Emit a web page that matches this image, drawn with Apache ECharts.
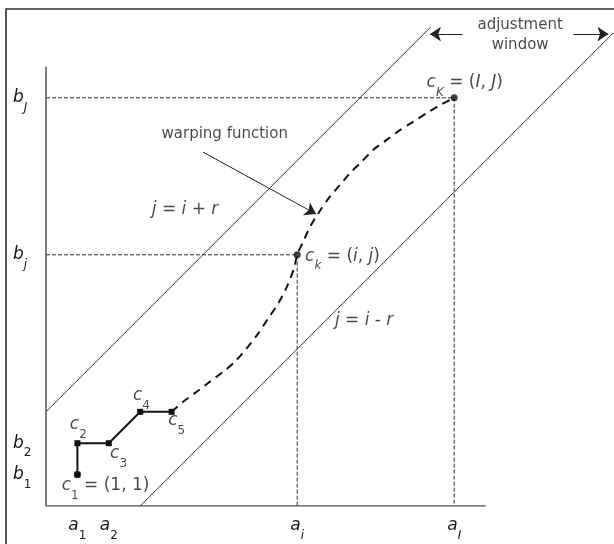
<!DOCTYPE html>
<html>
<head>
<meta charset="utf-8">
<script src="https://cdn.jsdelivr.net/npm/echarts@6/dist/echarts.min.js"></script>
<style>
html,body{margin:0;padding:0;background:#fff;}
#chart{width:614px;height:544px;}
</style>
</head>
<body>
<div id="chart"></div>
<script>
// ---- data (grid units: i along x, j along y) ----
const pathPoints = [[1, 1], [1, 2], [2, 2], [3, 3], [4, 3]];      // c1..c5
const pathNames = ['1', '2', '3', '4', '5'];
const ckPoint = [8, 8];     // c_k = (i, j)
const cKPoint = [13, 13];   // c_K = (I, J)
const warpCurve = [[4, 3], [4.37, 3.32], [4.8, 3.64], [5.22, 3.96], [5.65, 4.28], [6.02, 4.6],
  [6.39, 5.02], [6.76, 5.5], [7.08, 5.98], [7.4, 6.46], [7.67, 6.98], [7.9, 7.57], [8, 8],
  [8.19, 8.42], [8.41, 8.89], [8.67, 9.32], [9.04, 9.85], [9.36, 10.22], [9.68, 10.6],
  [10.05, 10.96], [10.42, 11.34], [10.85, 11.66], [11.27, 11.97], [11.7, 12.24],
  [12.12, 12.51], [12.55, 12.77], [13, 13]];
const r = 3;                       // window half-width
const axisEnd = 14;                // length of the drawn axes
const upperLineRange = [0, 12.25]; // i-range of j = i + r
const lowerLineRange = [3, 18.06]; // i-range of j = i - r
const xTickValues = [1, 2, 8, 13];
const xTickLabels = ['{m|a}{sn|1}', '{m|a}{sn|2}', '{m|a}{s|i}', '{m|a}{s|I}'];
const yTickValues = [1, 2, 8, 13];
const yTickLabels = ['{m|b}{sn|1}', '{m|b}{sn|2}', '{m|b}{s|j}', '{m|b}{s|J}'];
const warpArrow = [[5.0, 11.27], [8.6, 9.3]];
const windowArrowLeft = [[13.27, 15.03], [12.23, 15.03]];
const windowArrowRight = [[16.79, 15.03], [17.91, 15.03]];

// ---- styling ----
const FONT = 'DejaVu Sans';
const INK = '#1a1a1a';
const rich = {
  m:  {fontFamily: FONT, fontStyle: 'italic', fontSize: 17, lineHeight: 32, color: INK},
  n:  {fontFamily: FONT, fontStyle: 'normal', fontSize: 17, lineHeight: 32, color: INK},
  s:  {fontFamily: FONT, fontStyle: 'italic', fontSize: 12, lineHeight: 17, verticalAlign: 'bottom', color: INK},
  sn: {fontFamily: FONT, fontStyle: 'normal', fontSize: 12, lineHeight: 17, verticalAlign: 'bottom', color: INK},
  w:  {fontFamily: FONT, fontStyle: 'normal', fontSize: 15, lineHeight: 20, color: INK, align: 'center'}
};

// annotation anchors (left-middle of text, in grid units)
const annotations = [
  {at: [12.12, 13.49], text: '{m|c}{s|K}{n| = (}{m|I}{n|, }{m|J}{n|)}'},
  {at: [8.25, 7.95],   text: '{m|c}{s|k}{n| = (}{m|i}{n|, }{m|j}{n|)}'},
  {at: [0.50, 0.65],   text: '{m|c}{sn|1}{n| = (1, 1)}'},
  {at: [0.76, 2.58],   text: '{m|c}{sn|2}'},
  {at: [2.04, 1.67],   text: '{m|c}{sn|3}'},
  {at: [2.77, 3.52],   text: '{m|c}{sn|4}'},
  {at: [3.89, 2.72],   text: '{m|c}{sn|5}'},
  {at: [3.37, 9.43],   text: '{m|j}{n| = }{m|i}{n| + }{m|r}'},
  {at: [9.20, 5.92],   text: '{m|j}{n| = }{m|i}{n| - }{m|r}'},
  {at: [3.68, 11.83],  text: '{w|warping function}'}
];
const windowLabel = {at: [15.10, 15.0], text: '{w|adjustment}\n{w|window}'};

const chart = echarts.init(document.getElementById('chart'), null, {renderer: 'canvas'});

const option = {
  backgroundColor: '#fff',
  animation: false,
  graphic: [{
    type: 'rect', shape: {x: 6, y: 9, width: 700, height: 700},
    style: {fill: 'none', stroke: '#333', lineWidth: 1.6}, z: 100
  }],
  grid: {left: 46, top: 3.6, width: 580.9, height: 502.4, outerBoundsMode: 'none', containLabel: false},
  xAxis: {
    type: 'value', min: 0, max: 18.5,
    axisLine: {show: false}, axisTick: {show: false}, splitLine: {show: false},
    axisLabel: {
      customValues: xTickValues, margin: 4,
      formatter: v => xTickLabels[xTickValues.indexOf(v)],
      rich: rich
    }
  },
  yAxis: {
    type: 'value', min: 0, max: 16,
    axisLine: {show: false}, axisTick: {show: false}, splitLine: {show: false},
    axisLabel: {
      customValues: yTickValues, margin: 33, align: 'left',
      formatter: v => yTickLabels[yTickValues.indexOf(v)],
      rich: rich
    }
  },
  series: [
    { // axes
      type: 'line', data: [[0, axisEnd], [0, 0], [axisEnd, 0]],
      symbol: 'none', lineStyle: {color: '#555', width: 1.5}, silent: true
    },
    { // window boundary j = i + r
      type: 'line', data: upperLineRange.map(i => [i, i + r]),
      symbol: 'none', lineStyle: {color: '#333', width: 1}, silent: true
    },
    { // window boundary j = i - r
      type: 'line', data: lowerLineRange.map(i => [i, i - r]),
      symbol: 'none', lineStyle: {color: '#333', width: 1}, silent: true
    },
    { // guides to c_K
      type: 'line', data: [[0, cKPoint[1]], cKPoint, [cKPoint[0], 0]],
      symbol: 'none', lineStyle: {color: '#333', width: 1, type: [4, 2]}, silent: true
    },
    { // guides to c_k
      type: 'line', data: [[0, ckPoint[1]], ckPoint, [ckPoint[0], 0]],
      symbol: 'none', lineStyle: {color: '#333', width: 1, type: [4, 2]}, silent: true
    },
    { // warping function (dashed)
      type: 'line', data: warpCurve, smooth: 0.3,
      symbol: 'none', lineStyle: {color: '#111', width: 2, type: [8, 6]}, silent: true
    },
    { // initial path c1..c5
      type: 'line', data: pathPoints,
      symbol: 'rect', symbolSize: 6, showAllSymbol: true,
      itemStyle: {color: '#111'},
      lineStyle: {color: '#111', width: 2}, silent: true, z: 5
    },
    { // round points
      type: 'scatter', data: [pathPoints[0], ckPoint, cKPoint],
      symbol: 'circle', symbolSize: 7, itemStyle: {color: '#111'}, silent: true, z: 6
    },
    { // arrows
      type: 'lines', coordinateSystem: 'cartesian2d', polyline: false,
      symbol: ['none', 'arrow'], symbolSize: 11,
      lineStyle: {color: '#222', width: 1, opacity: 1, curveness: 0},
      data: [{coords: warpArrow}, {coords: windowArrowLeft}, {coords: windowArrowRight}],
      silent: true, z: 7
    },
    { // annotations
      type: 'scatter', symbolSize: 0, silent: true, z: 10,
      data: annotations.map(a => ({
        value: a.at,
        label: {show: true, position: 'right', distance: 0, formatter: a.text, rich: rich}
      })).concat([{
        value: windowLabel.at,
        label: {show: true, position: 'inside', formatter: windowLabel.text, rich: rich, align: 'center'}
      }])
    }
  ]
};
chart.setOption(option);
</script>
</body>
</html>
